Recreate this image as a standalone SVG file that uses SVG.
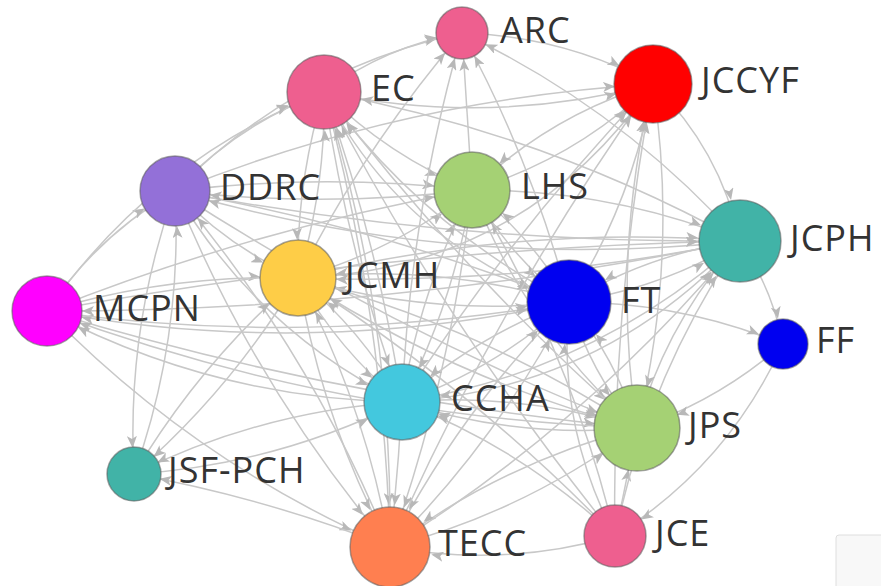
<svg xmlns="http://www.w3.org/2000/svg" width="881" height="586" viewBox="0 0 881 586">
<style>
.e{fill:none;stroke:#c8c8c8;stroke-width:1.5}
.n{stroke:#5a5a5a;stroke-opacity:0.55;stroke-width:1.5}
.t{font-family:"Open Sans","Noto Sans","Liberation Sans",sans-serif;font-size:36px;letter-spacing:1px;fill:#333}
</style>
<defs>
<marker id="a26" viewBox="0 0 12 10" refX="38" refY="5" markerWidth="12" markerHeight="10" markerUnits="userSpaceOnUse" orient="auto"><path d="M0,0L12,5L0,10L3,5Z" fill="#b8b8b8"/></marker>
<marker id="a31" viewBox="0 0 12 10" refX="43" refY="5" markerWidth="12" markerHeight="10" markerUnits="userSpaceOnUse" orient="auto"><path d="M0,0L12,5L0,10L3,5Z" fill="#b8b8b8"/></marker>
<marker id="a35" viewBox="0 0 12 10" refX="47" refY="5" markerWidth="12" markerHeight="10" markerUnits="userSpaceOnUse" orient="auto"><path d="M0,0L12,5L0,10L3,5Z" fill="#b8b8b8"/></marker>
<marker id="a38" viewBox="0 0 12 10" refX="50" refY="5" markerWidth="12" markerHeight="10" markerUnits="userSpaceOnUse" orient="auto"><path d="M0,0L12,5L0,10L3,5Z" fill="#b8b8b8"/></marker>
<marker id="a42" viewBox="0 0 12 10" refX="54" refY="5" markerWidth="12" markerHeight="10" markerUnits="userSpaceOnUse" orient="auto"><path d="M0,0L12,5L0,10L3,5Z" fill="#b8b8b8"/></marker>
</defs>
<rect width="881" height="586" fill="#fff"/>
<rect x="836" y="535" width="60" height="60" rx="3" fill="#f8f8f8" stroke="#dedede"/>
<g id="connectors">
<path class="e" marker-end="url(#a35)" d="M47,311Q97,236 175,191"/>
<path class="e" marker-end="url(#a38)" d="M47,311Q153,160 324,92"/>
<path class="e" marker-end="url(#a26)" d="M175,191Q295,69 462,33"/>
<path class="e" marker-end="url(#a38)" d="M175,191Q238,124 324,92"/>
<path class="e" marker-end="url(#a26)" d="M324,92Q386,46 462,33"/>
<path class="e" marker-end="url(#a38)" d="M324,92Q489,127 653,84"/>
<path class="e" marker-end="url(#a38)" d="M462,33Q564,36 653,84"/>
<path class="e" marker-end="url(#a38)" d="M472,190Q575,159 653,84"/>
<path class="e" marker-end="url(#a38)" d="M175,191Q405,99 653,84"/>
<path class="e" marker-end="url(#a38)" d="M298,278Q524,270 653,84"/>
<path class="e" marker-end="url(#a38)" d="M402,402Q512,231 653,84"/>
<path class="e" marker-end="url(#a38)" d="M569,302Q633,201 653,84"/>
<path class="e" marker-end="url(#a38)" d="M637,428Q611,254 653,84"/>
<path class="e" marker-end="url(#a42)" d="M653,84Q720,149 740,241"/>
<path class="e" marker-end="url(#a42)" d="M472,190Q611,189 740,241"/>
<path class="e" marker-end="url(#a42)" d="M298,278Q516,224 740,241"/>
<path class="e" marker-end="url(#a42)" d="M175,191Q455,244 740,241"/>
<path class="e" marker-end="url(#a42)" d="M402,402Q603,389 740,241"/>
<path class="e" marker-end="url(#a42)" d="M637,428Q666,322 740,241"/>
<path class="e" marker-end="url(#a42)" d="M740,241Q648,254 569,302"/>
<path class="e" marker-end="url(#a26)" d="M569,302Q680,302 783,344"/>
<path class="e" marker-end="url(#a26)" d="M740,241Q772,288 783,344"/>
<path class="e" marker-end="url(#a31)" d="M783,344Q728,465 615,536"/>
<path class="e" marker-end="url(#a42)" d="M783,344Q718,401 637,428"/>
<path class="e" marker-end="url(#a42)" d="M615,536Q626,482 637,428"/>
<path class="e" marker-end="url(#a42)" d="M569,302Q590,372 637,428"/>
<path class="e" marker-end="url(#a42)" d="M472,190Q526,329 637,428"/>
<path class="e" marker-end="url(#a42)" d="M653,84Q679,258 637,428"/>
<path class="e" marker-end="url(#a42)" d="M298,278Q455,380 637,428"/>
<path class="e" marker-end="url(#a42)" d="M402,402Q522,392 637,428"/>
<path class="e" marker-end="url(#a42)" d="M390,547Q525,512 637,428"/>
<path class="e" marker-end="url(#a42)" d="M175,191Q394,333 637,428"/>
<path class="e" marker-end="url(#a42)" d="M47,311Q336,399 637,428"/>
<path class="e" marker-end="url(#a42)" d="M298,278Q322,420 390,547"/>
<path class="e" marker-end="url(#a42)" d="M402,402Q398,474 390,547"/>
<path class="e" marker-end="url(#a42)" d="M175,191Q254,386 390,547"/>
<path class="e" marker-end="url(#a42)" d="M324,92Q384,316 390,547"/>
<path class="e" marker-end="url(#a42)" d="M472,190Q452,373 390,547"/>
<path class="e" marker-end="url(#a42)" d="M569,302Q460,410 390,547"/>
<path class="e" marker-end="url(#a42)" d="M615,536Q504,568 390,547"/>
<path class="e" marker-end="url(#a42)" d="M637,428Q502,463 390,547"/>
<path class="e" marker-end="url(#a42)" d="M47,311Q195,463 390,547"/>
<path class="e" marker-end="url(#a26)" d="M390,547Q266,498 134,474"/>
<path class="e" marker-end="url(#a26)" d="M402,402Q261,411 134,474"/>
<path class="e" marker-end="url(#a26)" d="M298,278Q232,389 134,474"/>
<path class="e" marker-end="url(#a26)" d="M175,191Q126,328 134,474"/>
<path class="e" marker-end="url(#a35)" d="M402,402Q214,399 47,311"/>
<path class="e" marker-end="url(#a35)" d="M637,428Q333,417 47,311"/>
<path class="e" marker-end="url(#a35)" d="M569,302Q309,359 47,311"/>
<path class="e" marker-end="url(#a35)" d="M740,241Q397,311 47,311"/>
<path class="e" marker-end="url(#a38)" d="M47,311Q170,274 298,278"/>
<path class="e" marker-end="url(#a38)" d="M47,311Q253,229 472,190"/>
<path class="e" marker-end="url(#a42)" d="M47,311Q309,348 569,302"/>
<path class="e" marker-end="url(#a38)" d="M175,191Q323,173 472,190"/>
<path class="e" marker-end="url(#a38)" d="M324,92Q388,156 472,190"/>
<path class="e" marker-end="url(#a38)" d="M298,278Q394,251 472,190"/>
<path class="e" marker-end="url(#a38)" d="M402,402Q420,290 472,190"/>
<path class="e" marker-end="url(#a38)" d="M569,302Q532,236 472,190"/>
<path class="e" marker-end="url(#a38)" d="M615,536Q571,352 472,190"/>
<path class="e" marker-end="url(#a38)" d="M298,278Q326,187 324,92"/>
<path class="e" marker-end="url(#a38)" d="M402,402Q378,243 324,92"/>
<path class="e" marker-end="url(#a38)" d="M390,547Q393,314 324,92"/>
<path class="e" marker-end="url(#a38)" d="M637,428Q464,276 324,92"/>
<path class="e" marker-end="url(#a38)" d="M569,302Q421,226 324,92"/>
<path class="e" marker-end="url(#a38)" d="M615,536Q447,329 324,92"/>
<path class="e" marker-end="url(#a38)" d="M740,241Q544,133 324,92"/>
<path class="e" marker-end="url(#a26)" d="M472,190Q467,111 462,33"/>
<path class="e" marker-end="url(#a26)" d="M298,278Q365,146 462,33"/>
<path class="e" marker-end="url(#a26)" d="M569,302Q532,161 462,33"/>
<path class="e" marker-end="url(#a26)" d="M740,241Q622,109 462,33"/>
<path class="e" marker-end="url(#a26)" d="M402,402Q410,214 462,33"/>
<path class="e" marker-end="url(#a38)" d="M402,402Q362,330 298,278"/>
<path class="e" marker-end="url(#a38)" d="M637,428Q480,326 298,278"/>
<path class="e" marker-end="url(#a38)" d="M390,547Q365,405 298,278"/>
<path class="e" marker-end="url(#a38)" d="M615,536Q472,388 298,278"/>
<path class="e" marker-end="url(#a38)" d="M175,191Q228,247 298,278"/>
<path class="e" marker-end="url(#a38)" d="M324,92Q296,183 298,278"/>
<path class="e" marker-end="url(#a38)" d="M569,302Q436,263 298,278"/>
<path class="e" marker-end="url(#a38)" d="M740,241Q521,286 298,278"/>
<path class="e" marker-end="url(#a38)" d="M298,278Q338,350 402,402"/>
<path class="e" marker-end="url(#a38)" d="M175,191Q257,331 402,402"/>
<path class="e" marker-end="url(#a38)" d="M324,92Q347,251 402,402"/>
<path class="e" marker-end="url(#a38)" d="M472,190Q454,302 402,402"/>
<path class="e" marker-end="url(#a38)" d="M569,302Q476,335 402,402"/>
<path class="e" marker-end="url(#a38)" d="M637,428Q517,439 402,402"/>
<path class="e" marker-end="url(#a38)" d="M740,241Q595,372 402,402"/>
<path class="e" marker-end="url(#a42)" d="M472,190Q509,256 569,302"/>
<path class="e" marker-end="url(#a42)" d="M298,278Q431,317 569,302"/>
<path class="e" marker-end="url(#a42)" d="M637,428Q616,358 569,302"/>
<path class="e" marker-end="url(#a42)" d="M175,191Q378,227 569,302"/>
<path class="e" marker-end="url(#a42)" d="M324,92Q404,246 569,302"/>
<path class="e" marker-end="url(#a42)" d="M402,402Q496,369 569,302"/>
<path class="e" marker-end="url(#a42)" d="M615,536Q557,426 569,302"/>
<path class="e" marker-end="url(#a35)" d="M472,190Q323,208 175,191"/>
<path class="e" marker-end="url(#a35)" d="M740,241Q452,272 175,191"/>
<path class="e" marker-end="url(#a35)" d="M134,474Q183,337 175,191"/>
<path class="e" marker-end="url(#a35)" d="M390,547Q311,352 175,191"/>
<path class="e" marker-end="url(#a38)" d="M653,84Q550,115 472,190"/>
<path class="e" marker-end="url(#a38)" d="M134,474Q275,465 402,402"/>
<path class="e" marker-end="url(#a38)" d="M134,474Q200,363 298,278"/>
<path class="e" marker-end="url(#a38)" d="M615,536Q522,448 402,402"/>
<path class="e" marker-end="url(#a42)" d="M390,547Q499,439 569,302"/>
<path class="e" marker-end="url(#a42)" d="M615,536Q648,376 740,241"/>
<path class="e" marker-end="url(#a38)" d="M390,547Q498,302 653,84"/>
<path class="e" marker-end="url(#a38)" d="M615,536Q611,308 653,84"/>
<path class="e" marker-end="url(#a42)" d="M569,302Q661,289 740,241"/>
<path class="e" marker-end="url(#a42)" d="M390,547Q590,422 740,241"/>
<path class="e" marker-end="url(#a42)" d="M47,311Q391,248 740,241"/>
</g>
<g id="node-ARC"><circle class="n" cx="462" cy="33" r="26" fill="#ee5f8f"/><text class="t" x="500" y="43">ARC</text></g>
<g id="node-EC"><circle class="n" cx="324" cy="92" r="37" fill="#ee5f8f"/><text class="t" x="371" y="101">EC</text></g>
<g id="node-JCCYF"><circle class="n" cx="653" cy="84" r="39" fill="#ff0000"/><text class="t" x="701" y="93">JCCYF</text></g>
<g id="node-DDRC"><circle class="n" cx="175" cy="191" r="35" fill="#9370d8"/><text class="t" x="220" y="200">DDRC</text></g>
<g id="node-LHS"><circle class="n" cx="472" cy="190" r="38" fill="#a5d174"/><text class="t" x="521" y="199">LHS</text></g>
<g id="node-JCPH"><circle class="n" cx="740" cy="241" r="41" fill="#41b3a7"/><text class="t" x="790" y="251">JCPH</text></g>
<g id="node-JCMH"><circle class="n" cx="298" cy="278" r="38" fill="#fecd47"/><text class="t" x="345" y="288">JCMH</text></g>
<g id="node-MCPN"><circle class="n" cx="47" cy="311" r="35" fill="#ff00ff"/><text class="t" x="93" y="321">MCPN</text></g>
<g id="node-FT"><circle class="n" cx="569" cy="302" r="42" fill="#0000f0"/><text class="t" x="621" y="313">FT</text></g>
<g id="node-FF"><circle class="n" cx="783" cy="344" r="25" fill="#0000f0"/><text class="t" x="816" y="353">FF</text></g>
<g id="node-CCHA"><circle class="n" cx="402" cy="402" r="38" fill="#43c8de"/><text class="t" x="451" y="411">CCHA</text></g>
<g id="node-JPS"><circle class="n" cx="637" cy="428" r="43" fill="#a5d174"/><text class="t" x="688" y="438">JPS</text></g>
<g id="node-JSF-PCH"><circle class="n" cx="134" cy="474" r="27" fill="#41b3a7"/><text class="t" x="168" y="483">JSF-PCH</text></g>
<g id="node-TECC"><circle class="n" cx="390" cy="547" r="40" fill="#ff7f50"/><text class="t" x="438" y="556">TECC</text></g>
<g id="node-JCE"><circle class="n" cx="615" cy="536" r="31" fill="#ee5f8f"/><text class="t" x="655" y="546">JCE</text></g>
</svg>
